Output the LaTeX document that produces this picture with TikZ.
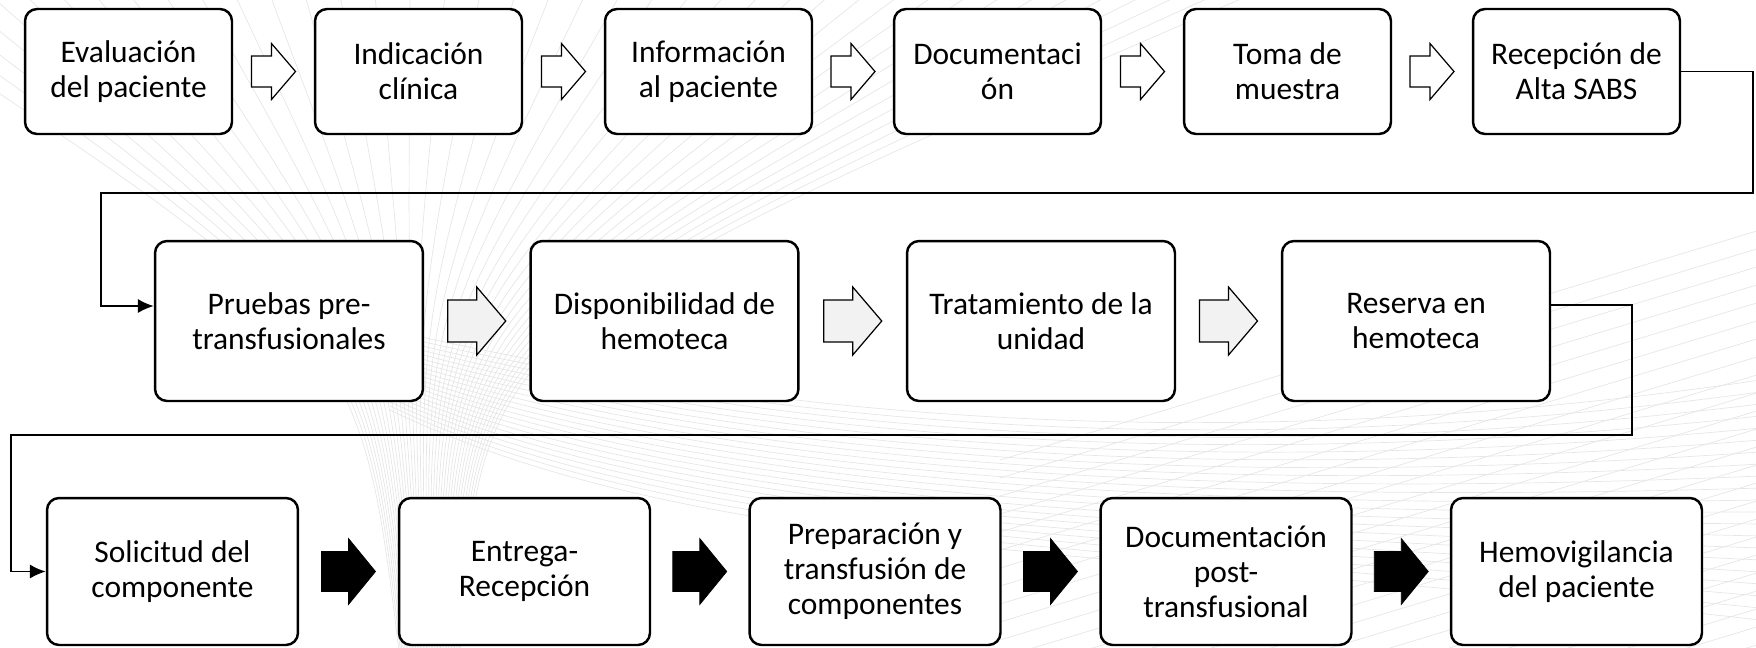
\documentclass[tikz,border=0pt]{standalone}
\usepackage{fontspec}
\setmainfont{Carlito}
\usetikzlibrary{calc}
\usetikzlibrary{arrows.meta}

\definecolor{grisflecha}{HTML}{F2F2F2}
\definecolor{grismalla}{HTML}{E6E6E6}

\tikzset{
  paso/.style={draw, line width=1.4pt, rounded corners=0.24cm, fill=white,
    align=center, inner sep=0pt, font=\fontsize{17.9}{19.9}\selectfont},
  pasoA/.style={paso, minimum width=4.14cm, minimum height=2.5cm},
  pasoB/.style={paso, minimum width=5.36cm, minimum height=3.2cm},
  pasoC/.style={paso, minimum width=5.02cm, minimum height=2.94cm},
  enlace/.style={line width=1.1pt, -{Latex[length=9pt,width=8pt]}},
  malla/.style={grismalla, line width=0.4pt},
  flechaA/.style={draw, line width=0.7pt, fill=white},
  flechaB/.style={draw, line width=0.7pt, fill=grisflecha},
  flechaC/.style={draw, fill=black},
}

% estilo, desde, hasta, largo, alto punta, alto cuerpo, largo punta
\newcommand{\bloque}[7]{%
  \coordinate (medio) at ($(#2.east)!0.5!(#3.west)$);
  \draw[#1,shift={(medio)}] (-#4/2,-#6/2) -- (#4/2-#7,-#6/2) -- (#4/2-#7,-#5/2)
    -- (#4/2,0) -- (#4/2-#7,#5/2) -- (#4/2-#7,#6/2) -- (-#4/2,#6/2) -- cycle;
}

\begin{document}
\begin{tikzpicture}[x=0.02cm,y=-0.02cm]
\useasboundingbox (0,0) rectangle (1756,647);

% fondo
\begin{scope}
\clip (0,0) rectangle (1756,647);
\foreach \i in {0,...,40}
  \draw[malla] (-150+\i*35,-5) .. controls (360+\i*3,330) .. (400+\i*1.5,660);
\foreach \i in {0,...,20}
  \draw[malla] (390,330+\i*4) .. controls (700,400+\i*8) and (1150,470+\i*4) .. (1760,380+\i*12);
\foreach \i in {0,...,26}
  \draw[malla] (1000,460+\i*18) -- (1760,230+\i*18);
\end{scope}

% fila 1
\node[pasoA] (r1a) at (128.5,71.5) {Evaluación\\del paciente};
\node[pasoA] (r1b) at (418.5,71.5) {Indicación\\clínica};
\node[pasoA] (r1c) at (708.5,71.5) {Información\\al paciente};
\node[pasoA] (r1d) at (997.5,71.5) {Documentaci\\ón};
\node[pasoA] (r1e) at (1287.5,71.5) {Toma de\\muestra};
\node[pasoA] (r1f) at (1576.5,71.5) {Recepción de\\Alta SABS};

% fila 2
\node[pasoB] (r2a) at (289,321) {Pruebas pre-\\transfusionales};
\node[pasoB] (r2b) at (664.5,321) {Disponibilidad de\\hemoteca};
\node[pasoB] (r2c) at (1041,321) {Tratamiento de la\\unidad};
\node[pasoB] (r2d) at (1416,321) {Reserva en\\hemoteca};

% fila 3
\node[pasoC] (r3a) at (172.5,571.5) {Solicitud del\\componente};
\node[pasoC] (r3b) at (524.5,571.5) {Entrega-\\Recepción};
\node[pasoC] (r3c) at (875,571.5) {Preparación y\\transfusión de\\componentes};
\node[pasoC] (r3d) at (1226,571.5) {Documentación\\post-\\transfusional};
\node[pasoC] (r3e) at (1576.5,571.5) {Hemovigilancia\\del paciente};

\foreach \a/\b in {r1a/r1b,r1b/r1c,r1c/r1d,r1d/r1e,r1e/r1f}
  {\bloque{flechaA}{\a}{\b}{44}{56}{31}{24}}
\foreach \a/\b in {r2a/r2b,r2b/r2c,r2c/r2d}
  {\bloque{flechaB}{\a}{\b}{58}{68}{42}{29}}
\foreach \a/\b in {r3a/r3b,r3b/r3c,r3c/r3d,r3d/r3e}
  {\bloque{flechaC}{\a}{\b}{54}{66}{40}{27}}

% enlaces entre filas
\coordinate (codo1) at (1753,193);
\coordinate (codo2) at (101,193);
\draw[enlace] (r1f.east) -| (codo1) -- (codo2) |- ([yshift=0.3cm]r2a.west);
\coordinate (codo3) at (1632,435);
\coordinate (codo4) at (11,435);
\draw[enlace] ([yshift=0.32cm]r2d.east) -| (codo3) -- (codo4) |- (r3a.west);
\end{tikzpicture}
\end{document}
